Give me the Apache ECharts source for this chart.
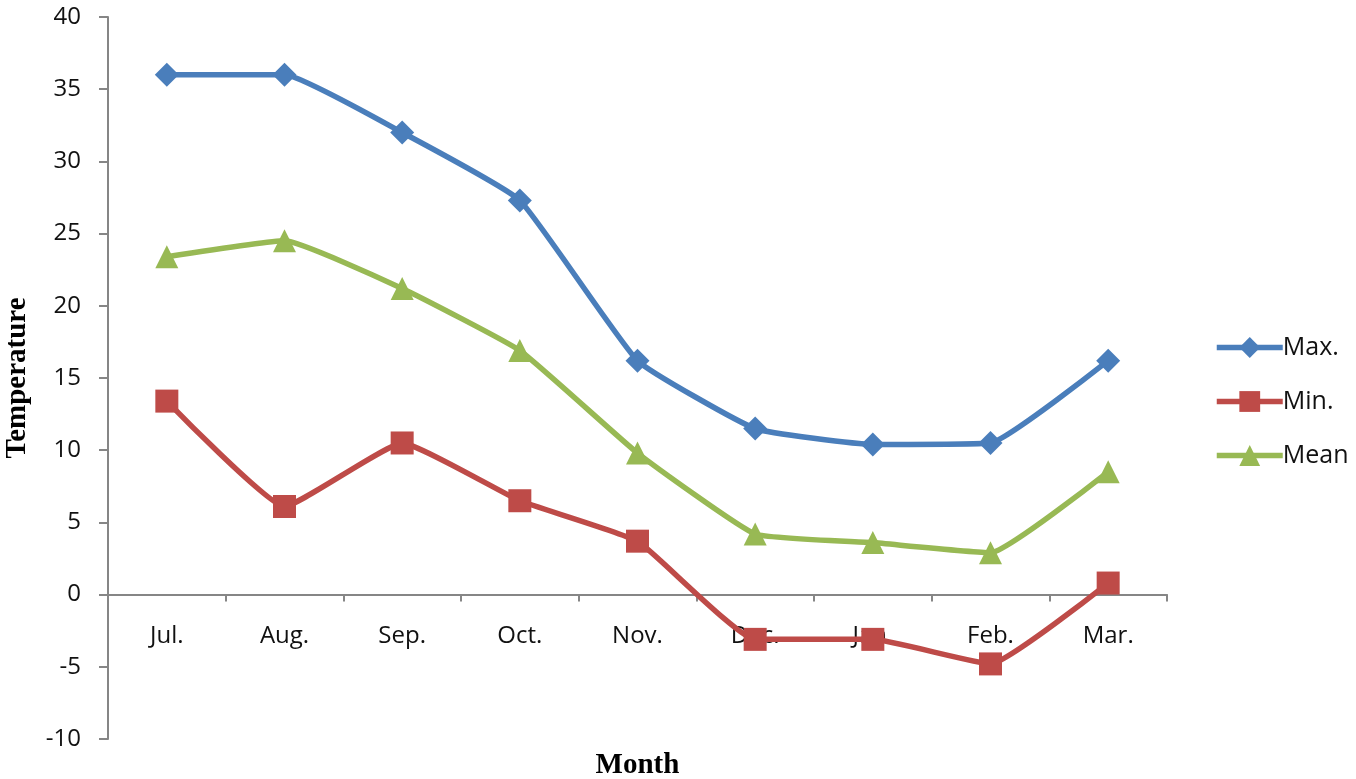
<!DOCTYPE html>
<html>
<head>
<meta charset="utf-8">
<script src="https://cdn.jsdelivr.net/npm/echarts@6/dist/echarts.min.js"></script>
<style>
  html, body { margin: 0; padding: 0; background: #fff; }
  #main { width: 1356px; height: 779px; }
</style>
</head>
<body>
<div id="main"></div>
<script>
// months on the x axis
const months = ['Jul.', 'Aug.', 'Sep.', 'Oct.', 'Nov.', 'Dec.', 'Jan.', 'Feb.', 'Mar.'];
// temperatures
const maxTemp = [36, 36, 32, 27.3, 16.2, 11.5, 10.4, 10.5, 16.2];
const minTemp = [13.4, 6.1, 10.5, 6.5, 3.7, -3.1, -3.1, -4.8, 0.8];
const meanTemp = [23.4, 24.5, 21.2, 16.9, 9.8, 4.2, 3.6, 2.9, 8.5];

const labelFont = "'Open Sans', 'Liberation Sans', sans-serif";
const titleFont = "'Liberation Serif', 'DejaVu Serif', serif";
const axisGray = '#868686';

const chart = echarts.init(document.getElementById('main'));

function lineSeries(name, data, color, symbol, size) {
  return {
    name: name,
    type: 'line',
    data: data,
    symbol: symbol,
    symbolSize: size,
    smooth: 0.12,
    lineStyle: { color: color, width: 5.5 },
    itemStyle: { color: color },
    emphasis: { disabled: true }
  };
}

chart.setOption({
  animation: false,
  grid: { left: 108, right: 189, top: 17, bottom: 40, containLabel: false, outerBoundsMode: 'none' },
  legend: {
    orient: 'vertical',
    left: 1209,
    top: 330,
    itemWidth: 66,
    itemHeight: 26,
    itemGap: 29,
    lineStyle: { width: 5.5 },
    textStyle: { fontFamily: labelFont, fontSize: 25, color: '#111', padding: [0, 0, 0, -5] },
    data: ['Max.', 'Min.', 'Mean']
  },
  xAxis: {
    type: 'category',
    data: months,
    name: 'Month',
    nameLocation: 'middle',
    nameGap: 12,
    nameTextStyle: { fontFamily: titleFont, fontWeight: 'bold', fontSize: 29, color: '#000' },
    axisLine: { onZero: true, lineStyle: { color: axisGray, width: 2 } },
    axisTick: { show: true, length: 7, lineStyle: { color: axisGray, width: 2 } },
    // labels sit under the zero line, as in the reference
    axisLabel: { fontFamily: labelFont, fontSize: 24, color: '#111', margin: -115 },
    splitLine: { show: false }
  },
  yAxis: {
    type: 'value',
    min: -10,
    max: 40,
    interval: 5,
    name: 'Temperature',
    nameLocation: 'middle',
    nameGap: 76,
    nameTextStyle: { fontFamily: titleFont, fontWeight: 'bold', fontSize: 29, color: '#000' },
    axisLine: { show: true, lineStyle: { color: axisGray, width: 2 } },
    axisTick: { show: true, length: 9, lineStyle: { color: axisGray, width: 2 } },
    axisLabel: { fontFamily: labelFont, fontSize: 24, color: '#111', margin: 27 },
    splitLine: { show: false }
  },
  series: [
    lineSeries('Max.', maxTemp, '#4A7EBB', 'diamond', 24),
    lineSeries('Min.', minTemp, '#BE4B48', 'rect', 23),
    lineSeries('Mean', meanTemp, '#98B954', 'triangle', 23)
  ]
});
</script>
</body>
</html>
